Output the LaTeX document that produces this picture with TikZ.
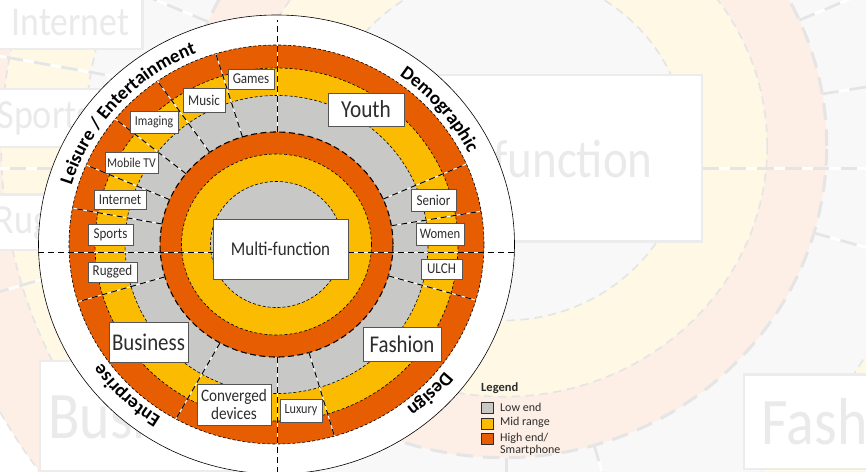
\documentclass[tikz,border=0pt]{standalone}
\usepackage{fontspec}
\setmainfont{Carlito}
\newfontfamily\lblf{Carlito}[FakeStretch=0.87]
\usetikzlibrary{decorations.text}

\definecolor{mOr}{RGB}{231,93,2}
\definecolor{mYe}{RGB}{251,187,0}
\definecolor{mGr}{RGB}{200,200,199}
\definecolor{mTx}{RGB}{45,45,45}
\definecolor{mBx}{RGB}{85,85,85}

\newcommand\setmaincolors{\colorlet{cOr}{mOr}\colorlet{cYe}{mYe}\colorlet{cGr}{mGr}%
  \colorlet{cTx}{mTx}\colorlet{cBx}{mBx}\colorlet{cLn}{black}}
\newcommand\setfadedcolors{\colorlet{cOr}{mOr!10!white}\colorlet{cYe}{mYe!10!white}%
  \colorlet{cGr}{mGr!12!white}\colorlet{cTx}{mTx!10!white}\colorlet{cBx}{mBx!11!white}%
  \colorlet{cLn}{black!10!white}}
\newcommand\arcf{\bfseries\fontsize{19}{19}\selectfont}

\tikzset{
  lbl/.style n args={3}{draw=cBx, fill=white, line width=\lwBox pt, inner sep=0pt,
    text=cTx, minimum width=#1, minimum height=#2, align=center,
    font=\lblf\fontsize{#3}{#3}\selectfont},
  swatch/.style={draw=mTx, line width=0.6pt, minimum width=12pt, minimum height=11pt, inner sep=0pt},
  legtext/.style={anchor=base west, inner sep=0pt, text=mTx, font=\fontsize{12}{12}\selectfont}
}

\newcommand\DiagramBody{%
  \pgfmathsetmacro\lwA{0.6*\dsc}\pgfmathsetmacro\dAon{3*\dsc}\pgfmathsetmacro\dAoff{2*\dsc}%
  \pgfmathsetmacro\lwB{1.1*\dsc}\pgfmathsetmacro\dBon{6*\dsc}\pgfmathsetmacro\dBoff{3.5*\dsc}%
  \pgfmathsetmacro\lwC{1*\dsc}\pgfmathsetmacro\dCon{6*\dsc}\pgfmathsetmacro\dCoff{4*\dsc}%
  \pgfmathsetmacro\lwBox{0.8*\dsc}%
  % rings
  \fill[white] (0,0) ellipse[x radius=238, y radius=229.5];
  \draw[cLn, line width=\lwA pt] (0,0) ellipse[x radius=238, y radius=229.5];
  \fill[cOr] (0,0) ellipse[x radius=207.5, y radius=199.5];
  \fill[cYe] (0,0) ellipse[x radius=181.5, y radius=176.5];
  \fill[cGr] (0,0) ellipse[x radius=151.5, y radius=149];
  \fill[cOr] (0,0) ellipse[x radius=116.5, y radius=112.5];
  \fill[cYe] (0,0) ellipse[x radius=95, y radius=90.5];
  \fill[cGr] (0,0) ellipse[x radius=66, y radius=63];
  \begin{scope}[cLn, line width=\lwA pt, dash pattern=on \dAon pt off \dAoff pt]
    \draw (0,0) ellipse[x radius=207.5, y radius=199.5];
    \draw (0,0) ellipse[x radius=181.5, y radius=176.5];
    \draw (0,0) ellipse[x radius=151.5, y radius=149];
    \draw (0,0) ellipse[x radius=95, y radius=90.5];
    \draw (0,0) ellipse[x radius=66, y radius=63];
  \end{scope}
  \draw[cLn, line width=\lwB pt, dash pattern=on \dBon pt off \dBoff pt]
    (0,0) ellipse[x radius=116.5, y radius=112.5];
  % sector lines
  \foreach \aa in {107,125,141,156.5,169.5,196.7,241,286.2,343.8,9.6,23.8}{%
    \draw[white, line width=\lwC pt] (\aa:116.5 and 112.5) -- (\aa:207.5 and 199.5);
    \draw[cLn, line width=\lwC pt, dash pattern=on \dCon pt off \dCoff pt]
      (\aa:116.5 and 112.5) -- (\aa:207.5 and 199.5);
  }
  % axis lines
  \foreach \pa/\pb in {{(1,112.5)}/{(1,224.5)}, {(1,-112.5)}/{(1,-250)}, {(-238.5,-8)}/{(237.5,-8)}}{%
    \draw[white, line width=\lwC pt] \pa -- \pb;
    \draw[cLn, line width=\lwC pt, dash pattern=on \dCon pt off \dCoff pt] \pa -- \pb;
  }
  % labels
  \node[lbl={46}{20}{15}]   (\pfx games)  at (-25.5,165.5) {Games};
  \node[lbl={42}{24}{15}]   (\pfx music)  at (-72.5,144.5) {Music};
  \node[lbl={48}{22}{13.7}] (\pfx imag)   at (-122.5,122.5) {Imaging};
  \node[lbl={53}{21}{13.5}] (\pfx mtv)    at (-145,82) {Mobile TV};
  \node[lbl={52}{19}{14.8}] (\pfx inet)   at (-156.5,44.5) {Internet};
  \node[lbl={45}{21}{15}]   (\pfx sports) at (-166,10) {Sports};
  \node[lbl={49}{20}{15}]   (\pfx rugged) at (-164,-27.5) {Rugged};
  \node[lbl={79}{40}{24}]   (\pfx bus)    at (-128,-97.5) {Business};
  \node[lbl={74}{41}{17.5}] (\pfx conv)   at (-42.5,-160) {\fontsize{17.5}{16.7}\selectfont Converged\\devices};
  \node[lbl={42}{23}{14}]   (\pfx lux)    at (24.5,-166) {Luxury};
  \node[lbl={78}{34}{24}]   (\pfx fash)   at (125.5,-99.5) {Fashion};
  \node[lbl={41}{20}{15}]   (\pfx ulch)   at (165,-24.5) {ULCH};
  \node[lbl={48}{22}{14.5}] (\pfx women)  at (163.5,10.5) {Women};
  \node[lbl={45}{22}{15}]   (\pfx senior) at (157,44.5) {Senior};
  \node[lbl={76}{33}{24.5}] (\pfx youth)  at (89.5,135) {Youth};
  \node[lbl={135}{60}{19.5}] (\pfx multi) at (4,-4.5) {Multi-function};
}

\begin{document}
\begin{tikzpicture}[x=1pt,y=1pt]
\useasboundingbox (0,0) rectangle (866,471);
\clip (0,0) rectangle (866,471);
\fill[white] (0,0) rectangle (866,471);
% faded enlarged background copy
\begin{scope}[shift={(504,325)}, scale=2.77, transform shape]
  \setfadedcolors\def\dsc{2.77}\def\pfx{f}
  \DiagramBody
\end{scope}
% main diagram
\begin{scope}[shift={(276.5,226.5)}]
  \setmaincolors\def\dsc{1}\def\pfx{m}
  \DiagramBody
  \path[decorate, color=black, decoration={text along path, text align=center,
      text={|\arcf|Leisure / Entertainment}}]
    (188:214 and 206) arc[start angle=188, end angle=88, x radius=214, y radius=206];
  \path[decorate, color=black, decoration={text along path, text align=center,
      text={|\arcf|Demographic}}]
    (90:214 and 206) arc[start angle=90, end angle=-10, x radius=214, y radius=206];
  \path[decorate, color=black, decoration={text along path, text align=center,
      text={|\arcf|Enterprise}}]
    (275.7:214 and 206) arc[start angle=275.7, end angle=175.7, x radius=214, y radius=206];
  \path[decorate, color=black, decoration={text along path, text align=center,
      text={|\arcf|Design}}]
    (365.3:214 and 206) arc[start angle=365.3, end angle=265.3, x radius=214, y radius=206];
\end{scope}
% legend
\node[anchor=base west, inner sep=0pt, text=mTx, font=\bfseries\fontsize{12.5}{12.5}\selectfont] (legtitle) at (481,80) {Legend};
\node[swatch, fill=mGr] (sw1) at (487,63.5) {};
\node[swatch, fill=mYe] (sw2) at (487,47.5) {};
\node[swatch, fill=mOr] (sw3) at (487,32.5) {};
\node[legtext] (lt1) at (500,60) {Low end};
\node[legtext] (lt2) at (500,46) {Mid range};
\node[legtext] (lt3) at (500,30) {High end/};
\node[legtext] (lt4) at (500,18) {Smartphone};
\end{tikzpicture}
\end{document}
